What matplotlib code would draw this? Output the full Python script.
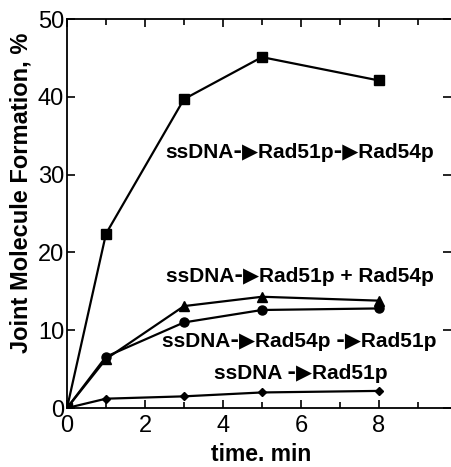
import matplotlib
matplotlib.use("Agg")
import matplotlib.pyplot as plt
from matplotlib.ticker import MultipleLocator

plt.rcParams['font.family'] = ['Liberation Sans', 'DejaVu Sans']

# data
time_min = [0, 1, 3, 5, 8]
rad51_then_rad54 = [0, 22.4, 39.7, 45.1, 42.1]
rad51_plus_rad54 = [0, 6.3, 13.1, 14.3, 13.8]
rad54_then_rad51 = [0, 6.6, 11.0, 12.6, 12.8]
rad51_only = [0, 1.2, 1.5, 2.0, 2.2]

labels = [
    "ssDNA\u2011\u25b6Rad51p\u2011\u25b6Rad54p",
    "ssDNA\u2011\u25b6Rad51p + Rad54p",
    "ssDNA\u2011\u25b6Rad54p \u2011\u25b6Rad51p",
    "ssDNA \u2011\u25b6Rad51p",
]
label_xy = [(5.97, 32.8), (5.97, 16.9), (5.97, 8.5), (6.0, 4.5)]

fig = plt.figure(figsize=(4.51, 4.67), dpi=100)
ax = fig.add_axes([0.1486, 0.1263, 0.8514, 0.833])

ax.plot(time_min, rad51_then_rad54, color="black", lw=1.6, marker="s", ms=7.5)
ax.plot(time_min, rad51_plus_rad54, color="black", lw=1.6, marker="^", ms=6.5)
ax.plot(time_min, rad54_then_rad51, color="black", lw=1.6, marker="o", ms=6.5)
ax.plot(time_min, rad51_only, color="black", lw=1.6, marker="D", ms=4.5)

for txt, (x, y) in zip(labels, label_xy):
    ax.text(x, y, txt, ha="center", va="center", fontsize=15, fontweight="bold")

ax.set_xlim(0, 9.85)
ax.set_ylim(0, 50)
ax.xaxis.set_major_locator(MultipleLocator(2))
ax.xaxis.set_minor_locator(MultipleLocator(1))
ax.yaxis.set_major_locator(MultipleLocator(10))
ax.tick_params(which="both", direction="in", top=True, right=True, labelsize=17,
               width=1.2, pad=2)
ax.tick_params(axis="x", pad=5)
ax.tick_params(which="major", length=6)
ax.tick_params(which="minor", length=4)
for s in ["left", "bottom", "top"]:
    ax.spines[s].set_linewidth(1.3)
ax.spines["right"].set_visible(False)

ax.set_xlabel("time. min", fontsize=16.5, fontweight="bold", va="baseline")
ax.xaxis.set_label_coords(0.505, -0.135)
ax.set_ylabel("Joint Molecule Formation, %", fontsize=17, fontweight="bold", va="center")
ax.yaxis.set_label_coords(-0.12, 0.553)

fig.savefig("out.png", dpi=100)
